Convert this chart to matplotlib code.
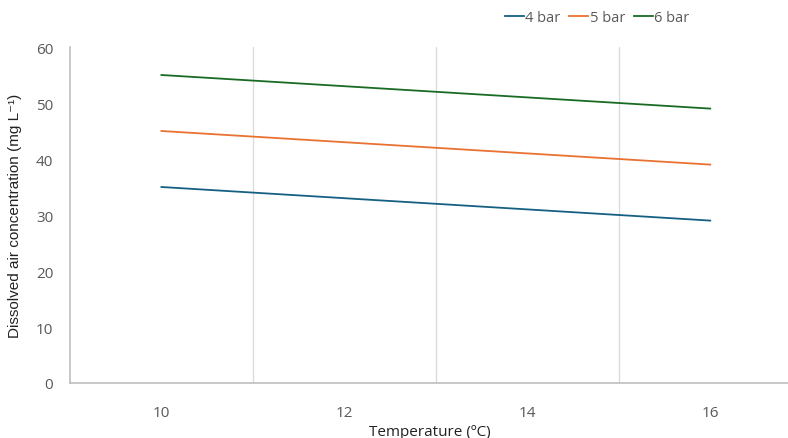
import matplotlib
matplotlib.use("Agg")
import matplotlib.pyplot as plt

# Dissolved air vs temperature at three saturator pressures
temperature = [10, 11, 12, 13, 14, 15, 16]
air_4bar = [35, 34, 33, 32, 31, 30, 29]
air_5bar = [45, 44, 43, 42, 41, 40, 39]
air_6bar = [55, 54, 53, 52, 51, 50, 49]
series_labels = ["4 bar", "5 bar", "6 bar"]
series_colors = ["#156082", "#E97132", "#196B24"]
x_ticks = [10, 12, 14, 16]
x_grid = [11, 13, 15]
y_ticks = [0, 10, 20, 30, 40, 50, 60]

plt.rcParams["font.family"] = ["Open Sans", "DejaVu Sans"]
text_grey = "#595959"

fig = plt.figure(figsize=(7.88, 4.39), dpi=100)
ax = fig.add_axes([70 / 788, 1 - 384 / 439, 1 - 70 / 788, (384 - 48) / 439])

for values, label, color in zip([air_4bar, air_5bar, air_6bar], series_labels, series_colors):
    ax.plot(temperature, values, color=color, linewidth=1.3, label=label)

for g in x_grid:
    ax.axvline(g, color="#d9d9d9", linewidth=0.9, zorder=0)

ax.set_xlim(9, 16.85)
ax.set_ylim(0, 60)
ax.set_xticks(x_ticks)
ax.set_yticks(y_ticks)
ax.tick_params(length=0, labelsize=11, labelcolor=text_grey)
ax.tick_params(axis="x", pad=16)
ax.tick_params(axis="y", pad=12)

for side in ["top", "right"]:
    ax.spines[side].set_visible(False)
for side in ["left", "bottom"]:
    ax.spines[side].set_color("#bfbfbf")
    ax.spines[side].set_linewidth(1.2)

ax.set_xlabel("Temperature (ºC)", fontsize=11, color="#222222")
ax.xaxis.set_label_coords(0.501, -0.123)
ax.set_ylabel("Dissolved air concentration (mg L⁻¹)", fontsize=11,
              color="#222222", family=["Liberation Sans", "DejaVu Sans"])
ax.yaxis.set_label_coords(-0.067, 0.5)

fig.legend(loc="center", bbox_to_anchor=(597 / 788, 1 - 19 / 439), ncol=3,
           frameon=False, fontsize=10.5, handlelength=1.3, handletextpad=0.1,
           columnspacing=0.6, labelcolor=text_grey)

fig.savefig("out.png", dpi=100)
